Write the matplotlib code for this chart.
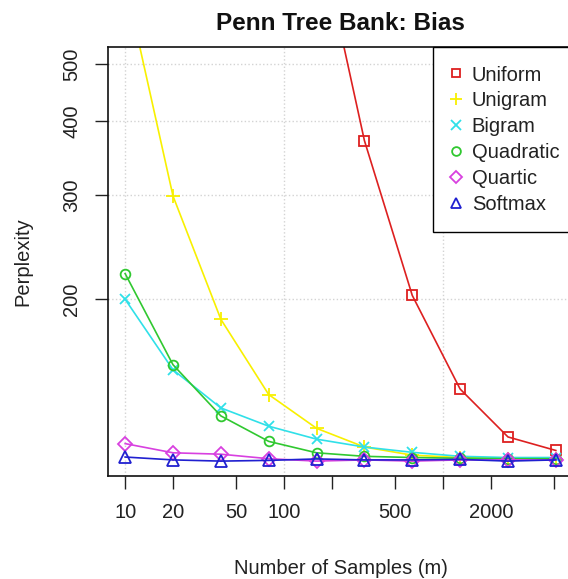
import matplotlib
matplotlib.use("Agg")
import matplotlib.pyplot as plt
from matplotlib.lines import Line2D
from matplotlib.ticker import NullLocator

plt.rcParams['font.family'] = ['Liberation Sans', 'DejaVu Sans']

# number of samples m (doubling from 10)
samples = [10, 20, 40, 80, 160, 320, 640, 1280, 2560, 5120]

# perplexity per proposal distribution
uniform = [6000, 3800, 2400, 1500, 870, 371, 203, 141, 117, 111]
unigram = [690, 299, 185, 138, 121, 112.5, 109, 108, 107.5, 107.5]
bigram = [200, 152, 131, 122, 116, 112.5, 110.2, 108.5, 108, 108]
quadratic = [221, 155, 127, 115, 110, 108.5, 108, 107.7, 107.5, 107.5]
quartic = [114, 110, 109.4, 107.5, 106.5, 107, 106.5, 107, 107, 107]
softmax = [108.2, 107, 106.5, 106.8, 107.4, 107, 107, 107.2, 106.5, 107]

series_names = ['Uniform', 'Unigram', 'Bigram', 'Quadratic', 'Quartic', 'Softmax']
series_values = [uniform, unigram, bigram, quadratic, quartic, softmax]
colors = ['#dd2020', '#f8f000', '#30e0e8', '#30c830', '#d840e0', '#2020d0']
markers = ['s', '+', 'x', 'o', 'D', '^']
msizes = [7, 10, 7.5, 7, 7, 8]

xticks = [10, 20, 50, 100, 200, 500, 1000, 2000, 5000]
xticklabels = ['10', '20', '50', '100', '', '500', '', '2000', '']
yticks = [200, 300, 400, 500]
xgrid = [10, 100, 1000]

fig = plt.figure(figsize=(5.68, 5.79), dpi=100)
ax = fig.add_axes([0.1901, 0.1779, 0.8187, 0.7409])

ax.set_xscale('log')
ax.set_yscale('log')
ax.set_xlim(7.8, 6565)
ax.set_ylim(100.5, 534)

# light dotted grid like R's grid()
for gx in xgrid:
    ax.axvline(gx, color='#d3d3d3', linestyle=':', linewidth=1.0, zorder=0)
for gy in yticks:
    ax.axhline(gy, color='#d3d3d3', linestyle=':', linewidth=1.0, zorder=0)

for vals, col, mk, ms in zip(series_values, colors, markers, msizes):
    ax.plot(samples, vals, color=col, linewidth=1.2, marker=mk, markersize=ms,
            markerfacecolor='none', markeredgecolor=col, markeredgewidth=1.3,
            clip_on=True)

ax.xaxis.set_minor_locator(NullLocator())
ax.yaxis.set_minor_locator(NullLocator())
ax.set_xticks(xticks)
ax.set_xticklabels(xticklabels)
ax.set_yticks(yticks)
ax.set_yticklabels([str(v) for v in yticks], rotation=90, va='center')
ax.tick_params(axis='both', length=9.4, width=1.0, pad=10, labelsize=14.5,
               color='#222222', labelcolor='#222222')

for sp in ax.spines.values():
    sp.set_linewidth(1.2)
    sp.set_color('#111111')

ax.set_title('Penn Tree Bank: Bias', fontsize=17.5, fontweight='bold', pad=12,
             color='#111111')
ax.set_xlabel('Number of Samples (m)', fontsize=14.5, va='center', color='#222222')
ax.xaxis.set_label_coords(0.5, -0.2145)
ax.set_ylabel('Perplexity', fontsize=14.5, va='center', color='#222222')
ax.yaxis.set_label_coords(-0.183, 0.5)

handles = [Line2D([], [], linestyle='none', marker=mk, markersize=ms * 0.9,
                  markerfacecolor='none', markeredgecolor=col, markeredgewidth=1.3)
           for col, mk, ms in zip(colors, markers, msizes)]
leg = ax.legend(handles, series_names, loc='upper left', bbox_to_anchor=(0.699, 1.0),
                borderaxespad=0, fontsize=14.5, frameon=True, fancybox=False,
                edgecolor='black', framealpha=1, borderpad=0.92, handlelength=0.4,
                handletextpad=0.6, labelspacing=0.34)
leg.get_frame().set_linewidth(1.0)
for t in leg.get_texts():
    t.set_color('#222222')

fig.savefig('out.png', dpi=100)
